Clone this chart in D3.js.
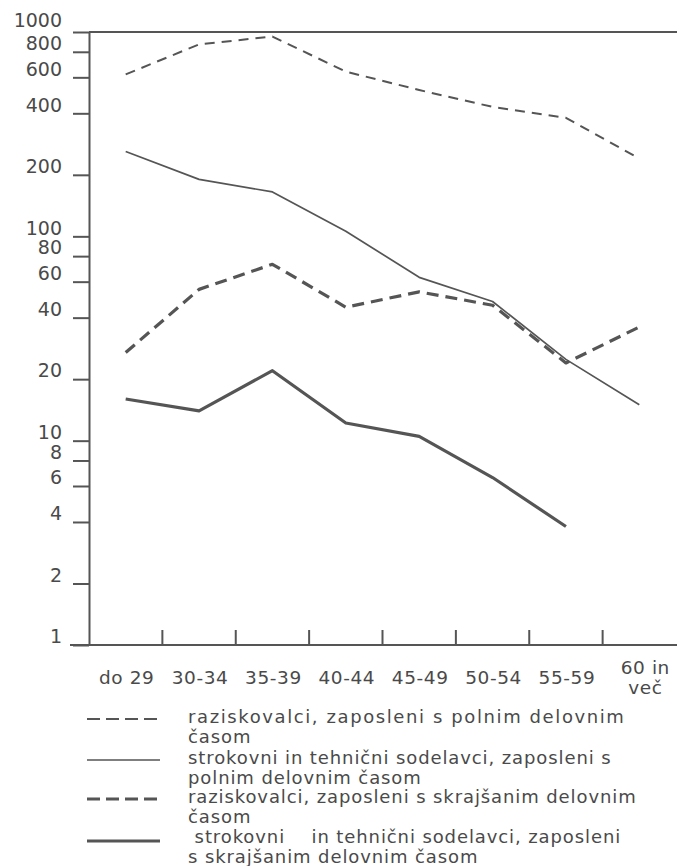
<!DOCTYPE html>
<html>
<head>
<meta charset="utf-8">
<script src="https://cdn.jsdelivr.net/npm/d3@7"></script>
<style>
body { margin:0; background:#fff; }
text { font-family: "DejaVu Sans", sans-serif; fill:#4a4a4a; }
</style>
</head>
<body>
<div id="canvas"></div>
<script>
const categories = ["do 29", "30-34", "35-39", "40-44", "45-49", "50-54", "55-59", "60 in\nveč"];
const rFull = [620, 870, 950, 640, 520, 430, 380, 240];
const sFull = [260, 190, 165, 106, 63, 48, 25, 15];
const rPart = [27, 55, 73, 45, 53.5, 46, 24, 36];
const sPart = [16, 14, 22, 12.2, 10.5, 6.6, 3.8, null];
const yTicks = [1, 2, 4, 6, 8, 10, 20, 40, 60, 80, 100, 200, 400, 600, 800, 1000];
const legendLabels = [
  ["raziskovalci, zaposleni s polnim delovnim", "časom"],
  ["strokovni in tehnični sodelavci, zaposleni s", "polnim delovnim časom"],
  ["raziskovalci, zaposleni s skrajšanim delovnim", "časom"],
  [" strokovni    in tehnični sodelavci, zaposleni", "s skrajšanim delovnim časom"]
];

const width = 677;
const height = 866;
const color = "#555";

const svg = d3.select("#canvas").append("svg")
  .attr("width", width)
  .attr("height", height);

const x = d3.scaleBand()
  .domain(categories)
  .range([89, 676]);

const y = d3.scaleLog()
  .domain([1, 1000])
  .range([645, 32]);

const styles = [
  { w: 2, dash: "10,7" },
  { w: 1.7, dash: null },
  { w: 3.2, dash: "12,7" },
  { w: 3.2, dash: null }
];
const series = [rFull, sFull, rPart, sPart];

// y axis
const yAxis = svg.append("g")
  .attr("transform", "translate(89,0)")
  .call(d3.axisLeft(y).tickValues(yTicks).tickSize(16).tickSizeOuter(0).tickPadding(11)
    .tickFormat(d3.format("d")));
yAxis.selectAll("path, line").attr("stroke", color).attr("stroke-width", 2);
yAxis.selectAll("text").attr("dy", d => d === 1000 ? "-0.3em" : "-0.12em").style("fill", "#4a4a4a")
  .style("font-size", "19px").style("font-family", "DejaVu Sans, sans-serif");

// top frame line and bottom axis line
svg.append("line").attr("x1", 89).attr("x2", width).attr("y1", y(1000)).attr("y2", y(1000))
  .attr("stroke", color).attr("stroke-width", 2);
svg.append("line").attr("x1", 70).attr("x2", width).attr("y1", y(1)).attr("y2", y(1))
  .attr("stroke", color).attr("stroke-width", 2);

// x boundary ticks
svg.selectAll(".xtick").data(categories.slice(1)).enter().append("line")
  .attr("x1", d => x(d)).attr("x2", d => x(d))
  .attr("y1", y(1)).attr("y2", y(1) - 15)
  .attr("stroke", color).attr("stroke-width", 2);

// x labels
const xl = svg.selectAll(".xlab").data(categories).enter().append("text")
  .attr("text-anchor", "middle")
  .style("font-size", "18.5px")
  .style("letter-spacing", "0.6px")
  .attr("y", d => d.includes("\n") ? 674 : 684);
xl.each(function(d) {
  const parts = d.split("\n");
  d3.select(this).selectAll("tspan").data(parts).enter().append("tspan")
    .attr("x", x(d) + x.bandwidth() / 2 + (parts.length > 1 ? 6 : 1))
    .attr("dy", (p, i) => i === 0 ? 0 : 20)
    .text(p => p);
});

// lines
const line = d3.line()
  .defined(v => v !== null)
  .x((v, i) => x(categories[i]) + x.bandwidth() / 2)
  .y(v => y(v));

series.forEach((s, k) => {
  svg.append("path")
    .datum(s)
    .attr("fill", "none")
    .attr("stroke", color)
    .attr("stroke-width", styles[k].w)
    .attr("stroke-dasharray", styles[k].dash)
    .attr("stroke-linejoin", "round")
    .attr("d", line);
});

// legend
const legY = [719, 760, 799, 841];
const textY = [718, 759, 798, 838];
legendLabels.forEach((lab, k) => {
  svg.append("line")
    .attr("x1", 87).attr("x2", 160)
    .attr("y1", legY[k]).attr("y2", legY[k])
    .attr("stroke", color)
    .attr("stroke-width", styles[k].w)
    .attr("stroke-dasharray", styles[k].dash ? "13,6" : null);
  const t = svg.append("text")
    .style("font-size", "18px")
    .attr("x", 188)
    .attr("y", textY[k] + 5);
  lab.forEach((p, i) => {
    t.append("tspan").attr("x", 188).attr("dy", i === 0 ? 0 : 19.5)
      .style("letter-spacing", k === 0 && i === 0 ? "1.6px" : "0.9px")
      .attr("xml:space", "preserve").text(p);
  });
});
</script>
</body>
</html>
